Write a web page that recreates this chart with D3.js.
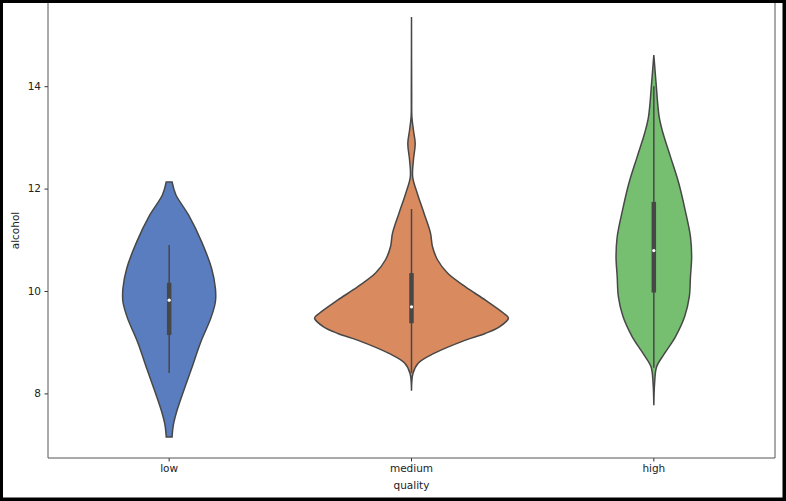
<!DOCTYPE html>
<html>
<head>
<meta charset="utf-8">
<script src="https://cdn.jsdelivr.net/npm/d3@7"></script>
<style>
  body { margin: 0; background: #000; }
  text { font-family: "DejaVu Sans", sans-serif; fill: #222; }
</style>
</head>
<body>
<svg width="786" height="501"></svg>
<script>
const categories = ["low", "medium", "high"]
const colors = ["#597dbf", "#d98b5f", "#76bf71"]
const yTicks = [8, 10, 12, 14]

// density outline per category: alcohol level and relative half width
const lowLevels = [7.15, 7.38, 7.64, 8.03, 8.49, 9.01, 9.47, 9.79, 10.05, 10.44, 10.96, 11.48, 11.88, 12.13]
const lowDensity = [0.03, 0.043, 0.077, 0.146, 0.232, 0.327, 0.43, 0.477, 0.477, 0.438, 0.335, 0.201, 0.069, 0.03]

const mediumLevels = [8.05, 8.39, 8.59, 8.78, 9.04, 9.17, 9.3, 9.47, 9.56, 9.82, 10.08, 10.35, 10.61, 10.87, 11.13, 11.52, 11.91, 12.23, 12.56, 12.88, 13.14, 13.4, 13.8, 15.35]
const mediumDensity = [0, 0.015, 0.069, 0.232, 0.557, 0.76, 0.907, 1.0, 0.954, 0.763, 0.557, 0.371, 0.268, 0.216, 0.196, 0.129, 0.059, 0.012, 0.02, 0.038, 0.02, 0.004, 0.002, 0]

const highLevels = [7.77, 8.2, 8.52, 8.78, 9.11, 9.5, 9.89, 10.28, 10.67, 11.06, 11.58, 12.1, 12.62, 13.08, 13.4, 14.06, 14.61]
const highDensity = [0, 0.008, 0.029, 0.111, 0.224, 0.318, 0.366, 0.378, 0.39, 0.378, 0.323, 0.258, 0.172, 0.095, 0.055, 0.023, 0]

// inner box: whisker low/high, q1, q3, median
const whiskerLow = [8.4, 8.4, 8.5]
const whiskerHigh = [10.9, 11.6, 14.0]
const q1 = [9.14, 9.37, 9.97]
const q3 = [10.16, 10.35, 11.74]
const medians = [9.82, 9.69, 10.79]

const levels = [lowLevels, mediumLevels, highLevels]
const densities = [lowDensity, mediumDensity, highDensity]

const svg = d3.select("svg")
const width = +svg.attr("width")
const height = +svg.attr("height")

svg.append("rect")
  .attr("x", 3).attr("y", 3)
  .attr("width", width - 6.5).attr("height", height - 6.5)
  .attr("fill", "#fff")

const margin = {top: 3, right: 11, bottom: 43, left: 48}
const innerWidth = width - margin.left - margin.right
const innerHeight = height - margin.top - margin.bottom

const g = svg.append("g")
  .attr("transform", `translate(${margin.left}, ${margin.top})`)

const xScale = d3.scaleBand()
  .domain(categories)
  .range([0, innerWidth])
  .padding(0)

const yScale = d3.scaleLinear()
  .domain([6.738, 15.625])
  .range([innerHeight, 0])

const wScale = d3.scaleLinear()
  .domain([0, 1])
  .range([0, xScale.bandwidth() * 0.4])

const lineColor = "#474747"

categories.forEach((c, i) => {
  const cx = xScale(c) + xScale.bandwidth() / 2
  const pts = levels[i].map((v, j) => ({v, d: densities[i][j]}))
  const area = d3.area()
    .y(d => yScale(d.v))
    .x0(d => cx - wScale(d.d))
    .x1(d => cx + wScale(d.d))
    .curve(d3.curveCatmullRom)

  g.append("path")
    .datum(pts)
    .attr("d", area)
    .attr("fill", colors[i])
    .attr("stroke", lineColor)
    .attr("stroke-width", 1.5)

  g.append("line")
    .attr("x1", cx).attr("x2", cx)
    .attr("y1", yScale(whiskerLow[i])).attr("y2", yScale(whiskerHigh[i]))
    .attr("stroke", lineColor)
    .attr("stroke-width", 1.5)

  g.append("line")
    .attr("x1", cx).attr("x2", cx)
    .attr("y1", yScale(q1[i])).attr("y2", yScale(q3[i]))
    .attr("stroke", lineColor)
    .attr("stroke-width", 4.5)

  g.append("circle")
    .attr("cx", cx)
    .attr("cy", yScale(medians[i]))
    .attr("r", 1.6)
    .attr("fill", "#fff")
})

const yAxis = d3.axisLeft(yScale)
  .tickValues(yTicks)
  .tickSize(3.5)
  .tickPadding(3.5)

const yAxisG = g.append("g").call(yAxis)
yAxisG.selectAll(".domain").remove()
yAxisG.selectAll("line").attr("stroke", "#333")
yAxisG.selectAll("text").attr("font-size", 10.5).attr("fill", "#222")

const xAxis = d3.axisBottom(xScale)
  .tickSize(3.5)
  .tickPadding(3.5)

const xAxisG = g.append("g")
  .attr("transform", `translate(0, ${innerHeight})`)
  .call(xAxis)
xAxisG.selectAll(".domain").remove()
xAxisG.selectAll("line").attr("stroke", "#333")
xAxisG.selectAll("text").attr("font-size", 10.5).attr("fill", "#222")

// spines: left, right, bottom (top sits under the frame)
g.append("path")
  .attr("d", `M0,0V${innerHeight}H${innerWidth}V0`)
  .attr("fill", "none")
  .attr("stroke", "#555")
  .attr("stroke-width", 1)

g.append("text")
  .attr("x", innerWidth / 2)
  .attr("y", innerHeight + 31)
  .attr("text-anchor", "middle")
  .attr("font-size", 10.5)
  .text("quality")

g.append("text")
  .attr("transform", "rotate(-90)")
  .attr("x", -innerHeight / 2)
  .attr("y", -29)
  .attr("text-anchor", "middle")
  .attr("font-size", 10.5)
  .text("alcohol")
</script>
</body>
</html>
